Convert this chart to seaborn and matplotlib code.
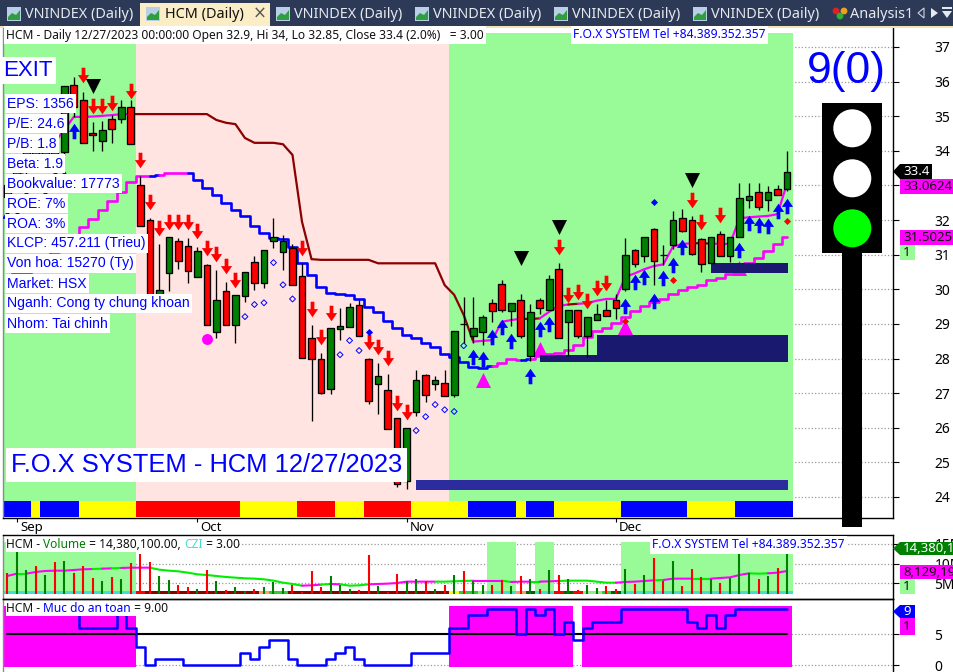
import matplotlib
matplotlib.use("Agg")
import matplotlib.pyplot as plt
import numpy as np
import seaborn as sns
from matplotlib.patches import Circle, Rectangle
from matplotlib.path import Path
from matplotlib.transforms import ScaledTranslation

W, H = 954, 672

# ==================== Data ====================
open_px = [33.01, 33.01, 33.45, 33.99, 33.59, 33.99, 33.97, 35.89, 35.46, 34.51, 34.29, 34.93, 34.91, 35.27,
           33.01, 32.00, 29.81, 30.48, 31.39, 31.25, 30.36, 30.69, 28.77, 29.94, 28.98, 29.81, 30.78, 30.17,
           31.39, 31.09, 31.19, 30.38, 28.58, 27.98, 27.13, 28.86, 28.92, 29.54, 27.98, 27.27, 27.08, 26.27,
           24.47, 26.46, 27.52, 27.27, 27.28, 26.96, 28.99, 28.66, 28.77, 29.60, 30.14, 29.38, 29.68, 28.08,
           29.68, 29.41, 30.58, 29.06, 29.39, 28.66, 29.12, 29.39, 29.68, 30.02, 31.13, 30.96, 31.73, 30.98,
           31.29, 32.05, 31.99, 31.44, 30.77, 31.59, 30.97, 31.52, 32.59, 32.80, 32.59, 32.89, 32.90]
high_px = [33.21, 33.73, 34.17, 34.08, 34.14, 34.17, 35.87, 36.12, 35.71, 34.84, 34.87, 35.03, 35.47, 35.47,
           33.27, 32.06, 31.31, 31.51, 31.48, 31.48, 31.21, 30.73, 30.56, 30.21, 29.83, 30.50, 30.96, 31.13,
           32.05, 31.57, 31.30, 30.76, 28.97, 28.15, 28.87, 29.47, 29.60, 29.69, 28.01, 27.87, 27.56, 26.28,
           25.99, 27.67, 27.56, 27.49, 27.66, 28.80, 29.78, 29.78, 29.26, 29.72, 30.27, 29.60, 29.86, 29.58,
           29.74, 30.41, 30.75, 29.40, 29.40, 29.20, 29.58, 29.69, 29.86, 31.48, 31.15, 31.51, 31.76, 31.28,
           32.26, 32.31, 32.12, 31.47, 31.51, 31.67, 31.51, 33.07, 33.07, 33.07, 32.98, 33.01, 34.00]
low_px = [32.58, 32.87, 33.30, 33.39, 33.50, 33.79, 33.88, 34.98, 34.23, 34.00, 34.00, 34.22, 34.81, 34.19,
          31.83, 29.84, 29.81, 29.96, 30.59, 30.19, 30.36, 28.98, 28.60, 28.98, 28.46, 29.63, 29.98, 30.04,
          31.19, 30.56, 30.13, 28.02, 26.20, 26.98, 26.98, 28.53, 28.92, 28.66, 26.69, 26.40, 25.97, 24.30,
          24.24, 26.34, 26.74, 27.09, 26.93, 26.90, 28.45, 28.46, 28.39, 29.06, 29.35, 28.94, 28.60, 27.93,
          29.29, 29.41, 28.58, 28.08, 28.59, 28.05, 29.12, 29.22, 29.14, 29.95, 30.65, 30.80, 30.11, 30.69,
          31.15, 31.66, 31.00, 30.49, 30.77, 30.97, 30.80, 31.52, 32.35, 32.29, 32.26, 32.73, 32.85]
close_px = [32.67, 33.59, 33.99, 33.45, 33.99, 33.91, 35.86, 35.27, 34.23, 34.45, 34.59, 34.64, 35.27, 34.19,
            31.83, 29.84, 29.98, 31.51, 30.83, 30.54, 31.10, 28.98, 29.68, 28.98, 29.83, 30.50, 30.17, 31.13,
            31.50, 31.39, 30.13, 28.02, 27.98, 27.01, 28.87, 28.94, 29.48, 28.66, 26.76, 27.49, 25.97, 24.37,
            25.99, 27.37, 26.96, 27.37, 26.93, 28.79, 28.99, 28.87, 29.20, 29.38, 29.41, 29.60, 28.66, 29.34,
            29.47, 30.29, 28.58, 29.39, 28.66, 29.19, 29.28, 29.22, 29.47, 30.98, 30.74, 31.50, 30.83, 30.98,
            31.99, 31.69, 31.03, 30.74, 31.50, 30.97, 31.50, 32.63, 32.69, 32.39, 32.80, 32.73, 33.40]

upper_line = [32.87, 33.13, 33.50, 33.79, 34.02, 34.25, 34.60, 34.98, 34.98, 34.99, 35.01, 35.03, 35.06, 35.06,
              35.06, 35.06, 35.06, 35.06, 35.06, 35.06, 35.06, 35.06, 34.89, 34.81, 34.77, 34.37, 34.23, 34.23,
              34.23, 34.19, 33.88, 31.95, 30.87, 30.85, 30.85, 30.85, 30.85, 30.85, 30.85, 30.75, 30.75, 30.75,
              30.75, 30.75, 30.75, 30.75, 30.12, 29.84, 29.26, 28.49, 28.51, 28.53, 29.06, 29.11, 29.15, 29.14,
              29.16, 29.35, 29.52, 29.56, 29.58, 29.60, 29.67, 29.72, 29.72, 30.36, 30.46, 30.58, 30.67, 30.72,
              31.23, 31.31, 31.33, 31.33, 31.32, 31.31, 31.31, 32.05, 32.08, 32.10, 32.12, 32.17, 33.06]
upper_runs = [("m", 13), ("d", 36), ("m", 5), ("d", 2), ("m", 3), ("d", 1), ("m", 12), ("d", 2), ("m", 9)]

lower_line = [30.25, 30.47, 30.47, 30.70, 30.90, 31.08, 31.28, 31.45, 31.80, 32.03, 32.29, 32.55, 32.82, 33.11,
              33.28, 33.28, 33.30, 33.35, 33.36, 33.37, 33.16, 32.93, 32.72, 32.50, 32.29, 32.13, 31.83, 31.63,
              31.47, 31.44, 31.23, 30.77, 30.41, 30.06, 29.88, 29.85, 29.84, 29.71, 29.50, 29.35, 29.09, 28.87,
              28.68, 28.60, 28.46, 28.32, 28.13, 28.05, 27.91, 27.76, 27.73, 27.79, 27.86, 27.98, 27.96, 27.99,
              28.07, 28.13, 28.17, 28.25, 28.39, 28.61, 28.79, 28.88, 29.03, 29.21, 29.37, 29.53, 29.63, 29.73,
              29.87, 29.98, 30.07, 30.13, 30.27, 30.33, 30.44, 30.61, 30.77, 30.91, 31.11, 31.31, 31.50]
lower_runs = [("m", 15), ("b", 1), ("m", 3), ("b", 32), ("m", 3), ("b", 1), ("m", 28)]

red_arrow_bar = [8, 9, 10, 11, 13, 14, 15, 16, 17, 18, 19, 20, 21, 22, 23, 24, 31, 32, 33, 34, 38, 39, 40, 41, 42,
                 58, 59, 60, 61, 62, 63, 72, 73, 75]
red_arrow_px = [36.19, 35.29, 35.29, 35.38, 35.73, 33.73, 32.52, 31.77, 31.94, 31.94, 31.94, 31.68, 31.19, 31.02,
                30.67, 30.27, 31.19, 29.43, 28.62, 29.32, 28.48, 28.33, 28.01, 26.72, 26.45, 31.22, 29.84, 29.92,
                29.66, 30.04, 30.18, 32.58, 31.94, 32.15]
blue_arrow_bar = [0, 1, 2, 4, 5, 6, 7, 49, 50, 51, 52, 53, 55, 56, 57, 65, 66, 67, 68, 69, 70, 71, 77, 78, 79, 80,
                  81, 82]
blue_arrow_px = [32.06, 32.06, 32.64, 32.64, 33.21, 33.21, 34.58, 28.05, 27.98, 28.63, 28.92, 28.51, 27.50, 28.86,
                 29.01, 29.53, 30.22, 30.36, 29.67, 30.33, 30.71, 31.23, 31.13, 31.92, 31.87, 31.84, 32.27, 32.41]
hollow_bar = [25, 26, 27, 28, 29, 30, 35, 36, 37, 43, 44, 45, 46, 47, 48]
hollow_px = [29.21, 29.56, 29.61, 30.77, 30.13, 29.72, 28.11, 28.52, 28.23, 25.92, 26.32, 26.67, 26.52, 26.47, 28.37]
blue_dia_bar = [38, 68]
blue_dia_px = [28.77, 32.52]
red_dot_bar = [65, 70, 82]
red_dot_px = [29.08, 30.27, 31.98]
pink_dot_bar = [21]
pink_dot_px = [28.56]
pink_tri_bar = [50, 56, 65, 77]
pink_tri_px = [27.38, 28.28, 28.91, 30.62]
black_tri_bar = [9, 54, 58, 72]
black_tri_px = [35.88, 30.90, 31.80, 33.16]

# start bar, end bar, low, high, colour of the support zones
zone_start = [43, 56, 62, 74]
zone_end = [82, 82, 82, 82]
zone_low = [24.20, 27.91, 28.00, 30.48]
zone_high = [24.49, 28.10, 28.68, 30.75]
zone_color = ["#2c2c9e", "#191970", "#191970", "#191970"]

main_bg_runs = [("#98fb98", 14), ("#ffe4e1", 33), ("#98fb98", 36)]
ribbon_runs = [("#0000ff", 3), ("#ffff00", 1), ("#0000ff", 4), ("#ffff00", 6), ("#ff0000", 11), ("#ffff00", 6),
               ("#ff0000", 4), ("#ffff00", 3), ("#ff0000", 5), ("#ffff00", 6), ("#0000ff", 5), ("#ffff00", 1),
               ("#0000ff", 3), ("#ffff00", 7), ("#0000ff", 7), ("#ffff00", 5), ("#0000ff", 6)]

month_bars = [1, 20, 42, 64]
month_labels = ["Sep", "Oct", "Nov", "Dec"]

volume_m = [7.70, 12.84, 8.37, 9.38, 7.10, 10.48, 10.65, 7.53, 9.38, 6.26, 5.59, 6.51, 6.01, 10.06, 12.42, 10.40,
            6.85, 5.84, 4.57, 4.07, 3.48, 8.29, 5.59, 3.31, 3.98, 3.05, 3.48, 4.07, 5.42, 3.81, 4.57, 2.89, 8.12,
            4.07, 6.85, 4.57, 3.56, 3.31, 12.17, 4.32, 2.89, 7.36, 5.59, 6.09, 5.59, 3.56, 4.57, 7.10, 8.12, 5.59,
            4.57, 4.57, 5.84, 4.32, 6.85, 6.09, 3.56, 8.37, 7.10, 6.09, 3.31, 4.57, 3.90, 4.32, 3.56, 8.62, 4.83,
            7.10, 11.41, 5.59, 10.65, 4.32, 8.62, 6.60, 6.09, 5.08, 6.35, 12.93, 7.61, 6.09, 6.85, 8.88, 12.93]
volume_ma = [6.85, 7.44, 7.44, 7.86, 8.12, 8.20, 8.20, 8.37, 8.54, 8.62, 8.71, 8.79, 8.88, 8.96, 8.96, 8.96, 8.45,
             8.20, 8.03, 7.70, 7.27, 7.10, 6.85, 6.60, 6.43, 6.26, 6.18, 6.01, 5.67, 5.16, 4.83, 4.40, 4.49, 4.66,
             4.83, 4.74, 4.40, 4.49, 4.74, 4.83, 4.91, 5.08, 5.42, 5.42, 5.42, 5.42, 5.42, 5.50, 5.59, 5.67, 5.67,
             5.67, 5.67, 5.33, 5.42, 5.42, 5.42, 5.50, 5.59, 5.67, 5.67, 5.67, 5.42, 5.16, 5.16, 5.33, 5.42, 5.59,
             5.76, 5.84, 6.18, 6.18, 6.18, 6.18, 6.18, 6.35, 6.51, 7.10, 7.53, 7.44, 7.53, 7.70, 8.13]
volume_ma_runs = [("m", 1), ("g", 1), ("m", 7), ("g", 1), ("m", 1), ("g", 1), ("m", 3), ("g", 16), ("m", 2), ("g", 1),
                  ("m", 1), ("g", 3), ("m", 7), ("g", 4), ("m", 3), ("g", 1), ("m", 2), ("g", 1), ("m", 2), ("g", 6),
                  ("m", 4), ("g", 1), ("m", 3), ("g", 2), ("m", 4), ("g", 2), ("m", 3)]
volume_bg_runs = [("#98fb98", 14), (None, 37), ("#98fb98", 3), (None, 2), ("#98fb98", 2), (None, 7), ("#98fb98", 18)]
czi_runs = [("#40e0d0", 14), ("#ff0000", 1), ("#8b0000", 12), ("#f4a460", 1), ("#32cd32", 2), ("#8b0000", 17),
            ("#ffff00", 1), ("#32cd32", 2), ("#90ee90", 1), ("#40e0d0", 3), ("#f4a460", 1), ("#006400", 1),
            ("#40e0d0", 2), ("#ff0000", 1), ("#006400", 1), ("#ff0000", 1), ("#90ee90", 2), ("#32cd32", 1),
            ("#006400", 1), ("#40e0d0", 18)]

safety = [9, 9, 9, 9, 9, 9, 9, 9, 6, 6, 6, 6, 9, 6, 3, 0, 1, 1, 1, 0, 0, 0, 0, 0, 0, 2, 1, 3, 4, 4, 1, 0, 0, 0, 1, 2,
          3, 1, 0, 0, 0, 0, 0, 2, 2, 2, 2, 6, 6, 8, 8, 9, 9, 9, 5, 9, 8, 9, 5, 7, 4, 6, 7, 7, 7, 9, 9, 9, 9, 9, 9, 9,
          7, 6, 8, 6, 8, 9, 9, 9, 9, 9, 9]

info_labels = ["EPS: 1356", "P/E: 24.6", "P/B: 1.8", "Beta: 1.9", "Bookvalue: 17773", "ROE: 7%", "ROA: 3%",
               "KLCP: 457.211 (Trieu)", "Von hoa: 15270 (Ty)", "Market: HSX", "Nganh: Cong ty chung khoan",
               "Nhom: Tai chinh"]

# ==================== Style ====================
sns.set_theme(style="white")
plt.rcParams["font.family"] = ["Liberation Sans", "DejaVu Sans"]
UI_FONT = ["Noto Sans", "DejaVu Sans"]
BLUE = "#0000ff"
MAGENTA = "#ff00ff"
LINE_COLORS = {"m": MAGENTA, "d": "#8b0000", "b": BLUE, "g": "#00ee00"}

ARROW_UP = Path([(-0.24, -1), (0.24, -1), (0.24, -0.05), (0.72, -0.05), (0, 1), (-0.72, -0.05), (-0.24, -0.05),
                 (-0.24, -1)], closed=True)
ARROW_DOWN = Path([(x, -y) for x, y in ARROW_UP.vertices], closed=True)


def px_rect(left, top, right, bottom):
    return [left / W, 1 - bottom / H, (right - left) / W, (bottom - top) / H]


def paint_runs(ax, runs, ymin, ymax):
    pos = -0.5
    for color, n in runs:
        if color:
            # the last run goes a touch past the last bar
            end = pos + n + (0.12 if pos + n > 82 else 0)
            ax.axvspan(pos, end, ymin=ymin, ymax=ymax, color=color, lw=0, zorder=1)
        pos += n


def run_line(ax, bars, values, runs, lw, steps=False):
    pos = 0
    for key, n in runs:
        stop = min(pos + n + 1, len(values))
        kws = {"drawstyle": "steps-mid"} if steps else {}
        sns.lineplot(x=bars[pos:stop], y=values[pos:stop], ax=ax, color=LINE_COLORS[key], lw=lw,
                     estimator=None, sort=False, legend=False, zorder=2, **kws)
        pos += n


def style_pane(ax, xlim, ylim, ticks, labels):
    ax.set_xlim(*xlim)
    ax.set_ylim(*ylim)
    ax.set_facecolor("none")
    ax.yaxis.tick_right()
    ax.set_yticks(ticks, labels, fontsize=10, family=UI_FONT, color="black")
    ax.tick_params(axis="y", direction="out", length=4, width=0.8, pad=26, colors="black", right=True)
    ax.set_axisbelow(True)
    ax.yaxis.grid(True, ls=":", color="#9a9a9a", lw=0.9)
    ax.xaxis.grid(False)
    ax.set_xlabel("")
    ax.set_ylabel("")
    for name, spine in ax.spines.items():
        spine.set_color("black")
        spine.set_linewidth(1.0)
    ax.spines["left"].set_color("#8a8a8a")


fig = plt.figure(figsize=(W / 100, H / 100), dpi=100, facecolor="white")
bars = np.arange(len(close_px))
XLIM = (-0.44, 93.11)

# ==================== Price pane ====================
ax = fig.add_axes(px_rect(3, 28, 892.7, 518))
style_pane(ax, XLIM, (23.393, 37.547), list(range(24, 38)), [str(v) for v in range(24, 38)])
ax.spines["top"].set_visible(False)
ax.set_xticks(month_bars, month_labels, fontsize=9.5, family=UI_FONT, ha="left", color="black")
ax.tick_params(axis="x", direction="out", length=3, width=0.8, pad=-1, colors="black", bottom=True)
for lbl in ax.get_xticklabels():
    lbl.set_transform(lbl.get_transform() + ScaledTranslation(2.4 / 72, 0, fig.dpi_scale_trans))

paint_runs(ax, main_bg_runs, 17 / 490, 485 / 490)
paint_runs(ax, ribbon_runs, 1 / 490, 17 / 490)

run_line(ax, bars, upper_line, upper_runs, 1.6)
run_line(ax, bars, lower_line, lower_runs, 1.9, steps=True)

sns.scatterplot(x=pink_tri_bar, y=pink_tri_px, ax=ax, marker="^", s=117, color=MAGENTA, linewidth=0,
                legend=False, zorder=2.5)
for x0, x1, lo, hi, c in zip(zone_start, zone_end, zone_low, zone_high, zone_color):
    ax.fill_between([x0, x1 + 0.1], lo, hi, color=c, lw=0, zorder=3)

ax.vlines(bars, low_px, high_px, color="black", lw=0.95, zorder=4)
opens, closes = np.array(open_px), np.array(close_px)
body_colors = ["#008000" if c > o else "#ff0000" for o, c in zip(opens, closes)]
ax.bar(bars, np.abs(closes - opens), bottom=np.minimum(opens, closes), width=0.7, color=body_colors,
       edgecolor="black", linewidth=0.95, zorder=4.2)

sns.scatterplot(x=red_arrow_bar, y=red_arrow_px, ax=ax, marker=ARROW_DOWN, s=125, color="#ff0000", linewidth=0,
                legend=False, zorder=5)
sns.scatterplot(x=blue_arrow_bar, y=blue_arrow_px, ax=ax, marker=ARROW_UP, s=125, color=BLUE, linewidth=0,
                legend=False, zorder=5)
sns.scatterplot(x=black_tri_bar, y=black_tri_px, ax=ax, marker="v", s=117, color="black", linewidth=0,
                legend=False, zorder=5)
sns.scatterplot(x=pink_dot_bar, y=pink_dot_px, ax=ax, marker="o", s=62, color=MAGENTA, linewidth=0,
                legend=False, zorder=5)
ax.scatter(hollow_bar, hollow_px, marker="D", s=9, facecolors="none", edgecolors=BLUE, linewidths=0.7, zorder=5)
sns.scatterplot(x=blue_dia_bar, y=blue_dia_px, ax=ax, marker="D", s=13, color=BLUE, linewidth=0, legend=False, zorder=5)
sns.scatterplot(x=red_dot_bar, y=red_dot_px, ax=ax, marker="D", s=13, color="#ff0000", linewidth=0, legend=False,
                zorder=5)

# ==================== Volume pane ====================
vax = fig.add_axes(px_rect(3, 535, 892.7, 599))
style_pane(vax, XLIM, (1.025, 17.23), [5, 10, 15], ["5M", "10M", "15M"])
vax.set_xticks([])
paint_runs(vax, volume_bg_runs, 8 / 64, 57 / 64)
paint_runs(vax, czi_runs, 5 / 64, 8 / 64)
vol_colors = ["#008000" if c > o else "#ff0000" for o, c in zip(opens, closes)]
vax.vlines(bars, 2.29, volume_m, colors=vol_colors, lw=1.5, zorder=3)
run_line(vax, bars, volume_ma, volume_ma_runs, 1.5)

# ==================== Safety pane ====================
sax = fig.add_axes(px_rect(3, 599, 892.7, 672))
style_pane(sax, XLIM, (-1.08, 10.6), [0, 5], ["0", "5"])
sax.set_xticks([])
sax.spines["bottom"].set_visible(False)
safe = np.array(safety)
sax.bar(bars[safe >= 5], 9.67, bottom=-0.2, width=1.02, color=MAGENTA, lw=0, zorder=1, antialiased=False)
sns.lineplot(x=[bars[0], bars[-1]], y=[5, 5], ax=sax, color="black", lw=1.5, legend=False, zorder=2)
sns.lineplot(x=bars, y=safety, ax=sax, color=BLUE, lw=1.8, drawstyle="steps-mid", estimator=None, legend=False, zorder=3)

# ==================== Window chrome, labels, traffic light ====================
ui = fig.add_axes([0, 0, 1, 1], zorder=10)
ui.set_xlim(0, W)
ui.set_ylim(H, 0)
ui.axis("off")
ui.patch.set_alpha(0)

ui.add_patch(Rectangle((0, 0), W, 26, color="#2c3a58", lw=0))
ui.add_patch(Rectangle((0, 26), W, 2, color="#f3e4b4", lw=0))
ui.add_patch(Rectangle((140, 3), 130, 24, color="#fbeec6", lw=0))


def tab_icon(x):
    ui.add_patch(Rectangle((x, 7), 14, 14, color="#b9cfe8", lw=0))
    ui.fill([x + 1, x + 5, x + 9, x + 13, x + 13, x + 1], [17, 13, 15, 10, 20, 20], color="#2f9e3f", lw=0)


for x_icon, x_txt in [(7, 25), (276, 294), (415, 433), (554, 572), (693, 711)]:
    tab_icon(x_icon)
    ui.text(x_txt, 14.5, "VNINDEX (Daily)", color="#e6e9ee", fontsize=10.4, family=UI_FONT, va="center")
tab_icon(146)
ui.text(165, 14.5, "HCM (Daily)", color="#111111", fontsize=10.4, family=UI_FONT, weight="bold", va="center")
ui.text(260, 14, "\u00d7", color="#555555", fontsize=12, family=["DejaVu Sans"], ha="center", va="center")
for dx, dy, c in [(0, 0, "#e02020"), (8, 0, "#f0a020"), (4, 5, "#30b030")]:
    ui.add_patch(Circle((836 + dx, 11 + dy), 3.4, color=c, lw=0))
ui.text(850, 14.5, "Analysis1", color="#e6e9ee", fontsize=10.4, family=UI_FONT, va="center")
ui.fill([924, 924, 918], [8, 18, 13], facecolor="none", edgecolor="#cfd4dc", lw=0.8)
ui.fill([931, 931, 938], [8, 18, 13], color="#e6e9ee", lw=0)
ui.fill([942, 952, 947], [11, 11, 18], color="#e6e9ee", lw=0)
ui.add_patch(Rectangle((942, 7), 10, 2, color="#e6e9ee", lw=0))

white_box = dict(fc="white", ec="none", pad=1.6)

ui.text(6, 35, "HCM - Daily 12/27/2023 00:00:00 Open 32.9, Hi 34, Lo 32.85, Close 33.4 (2.0%)   = 3.00",
        color="#111111", fontsize=8.63, family=UI_FONT, va="center", bbox=white_box)
ui.text(573, 35, "F.O.X SYSTEM Tel +84.389.352.357", color=BLUE, fontsize=8.7, family=UI_FONT, va="center",
        bbox=white_box)
ui.text(3, 70.5, "EXIT", color=BLUE, fontsize=16, va="center", bbox=dict(fc="white", ec="none", pad=2.4))
for n, label in enumerate(info_labels):
    ui.text(7, 103.5 + n * 20, label, color=BLUE, fontsize=10.1, va="center", bbox=white_box)
ui.text(11, 465, "F.O.X SYSTEM - HCM 12/27/2023", color=BLUE, fontsize=18.4, va="center",
        bbox=dict(fc="white", ec="none", pad=3.6))
ui.text(846, 71, "9(0)", color=BLUE, fontsize=32, ha="center", va="center")


def colored_text(x, y, pieces, right, top, bottom):
    # one white strip behind the whole line, then the coloured words on it
    ui.add_patch(Rectangle((x, top), right - x, bottom - top, color="white", lw=0))
    renderer = fig.canvas.get_renderer()
    for text, color in pieces:
        t = ui.text(x, y, text, color=color, fontsize=8.6, family=UI_FONT, va="center")
        box = t.get_window_extent(renderer)
        x += box.width


colored_text(6, 545, [("HCM - ", "#111111"), ("Volume", "#008000"), (" = 14,380,100.00, ", "#111111"),
                      ("CZI", "#40e0d0"), (" = 3.00", "#111111")], 239, 538, 552)
colored_text(6, 609, [("HCM - ", "#111111"), ("Muc do an toan", BLUE), (" = 9.00", "#111111")], 164, 601, 616)
ui.text(652, 545, "F.O.X SYSTEM Tel +84.389.352.357", color=BLUE, fontsize=8.7, family=UI_FONT, va="center",
        bbox=white_box)

# traffic light
ui.add_patch(Rectangle((842, 250), 20, 277, color="black", lw=0))
ui.add_patch(Rectangle((822, 103), 60, 150, color="black", lw=0))
for cy, c in [(128.3, "white"), (178.3, "white"), (228.3, "#00ff00")]:
    ui.add_patch(Circle((852.3, cy), 19, color=c, lw=0))


def arrow_tag(y0, y1, right, color, text, tcolor):
    mid = (y0 + y1) / 2
    ui.fill([893, 900, right, right, 900], [mid, y0, y0, y1, y1], color=color, lw=0)
    ui.text(903, mid, text, color=tcolor, fontsize=9.5, family=UI_FONT, va="center", clip_on=True)


def value_box(y0, y1, right, color, text):
    ui.add_patch(Rectangle((900, y0), right - 900, y1 - y0, color=color, lw=0))
    ui.text(903, (y0 + y1) / 2, text, color="#111111", fontsize=9.5, family=UI_FONT, va="center")


arrow_tag(164, 179, 932, "black", "33.4", "white")
value_box(179, 194, 953, MAGENTA, "33.0624")
value_box(230, 245, 953, MAGENTA, "31.5025")
value_box(245, 260, 915, "#98fb98", "1")
arrow_tag(542, 555, 954, "#008000", "14,380,100", "white")
value_box(565, 579, 954, MAGENTA, "8,129,194")
value_box(579, 594, 915, "#98fb98", "1")
arrow_tag(605, 618, 915, BLUE, "9", "white")
value_box(618, 635, 915, MAGENTA, "1")

fig.savefig("out.png", dpi=100)
